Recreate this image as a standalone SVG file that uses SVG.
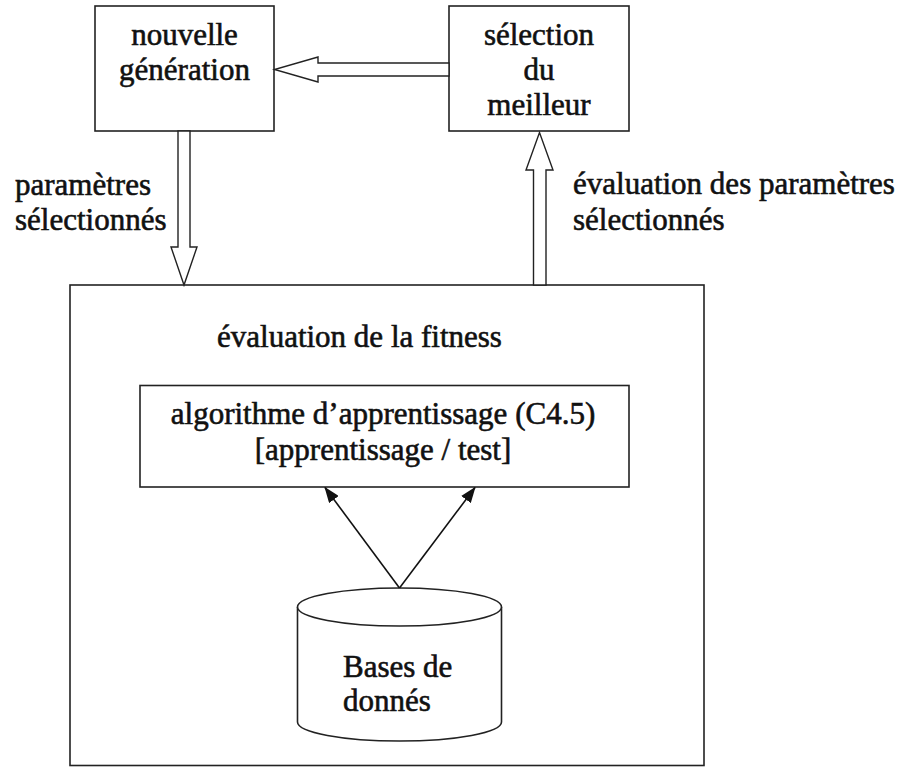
<svg xmlns="http://www.w3.org/2000/svg" width="900" height="767" viewBox="0 0 900 767">
<defs>
<style>
.box{fill:#fff;stroke:#222;stroke-width:1.6}
.hollow{fill:#fff;stroke:#222;stroke-width:1.4;stroke-linejoin:miter}
.line{fill:none;stroke:#111;stroke-width:1.6}
text{font-family:"Liberation Serif","Times New Roman",serif;font-size:31px;fill:#111;stroke:#111;stroke-width:0.6}
.c{text-anchor:middle}
</style>
<marker id="ah" viewBox="0 0 16 12" refX="15" refY="6" markerWidth="16" markerHeight="12" markerUnits="userSpaceOnUse" orient="auto">
<path d="M0,0 L16,6 L0,12 Z" fill="#111"/>
</marker>
</defs>
<rect width="900" height="767" fill="#fff"/>
<g id="fitness">
<rect class="box" x="70" y="285" width="634" height="480.5"/>
<text x="217" y="347">évaluation de la fitness</text>
</g>
<g id="nouvelle">
<rect class="box" x="95" y="6" width="179" height="125"/>
<text class="c" x="184.5" y="45">nouvelle</text>
<text class="c" x="184.5" y="80">génération</text>
</g>
<g id="selection">
<rect class="box" x="449" y="6" width="180" height="125"/>
<text class="c" x="539" y="45">sélection</text>
<text class="c" x="539" y="80">du</text>
<text class="c" x="539" y="115">meilleur</text>
</g>
<g id="algo">
<rect class="box" x="140" y="385.5" width="489" height="101.5"/>
<text class="c" x="383" y="424">algorithme d’apprentissage (C4.5)</text>
<text class="c" x="383" y="460">[apprentissage / test]</text>
</g>
<g id="bases">
<path class="box" d="M297.5,607 L297.5,722 A102,19 0 0 0 501.5,722 L501.5,607"/>
<ellipse class="box" cx="399.5" cy="607" rx="102" ry="19"/>
<text x="343" y="677">Bases de</text>
<text x="343" y="711">donnés</text>
</g>
<g id="connectors">
<polygon class="hollow" points="449,63 318,63 318,57 274.5,69.5 318,82 318,76 449,76"/>
<polygon class="hollow" points="178,131 178,247 171,247 184,285 197,247 190,247 190,131"/>
<polygon class="hollow" points="533.5,285 533.5,170 526,170 539.5,132.5 553,170 546,170 546,285"/>
<line class="line" x1="399.5" y1="588" x2="325" y2="487.5" marker-end="url(#ah)"/>
<line class="line" x1="399.5" y1="588" x2="475" y2="487.5" marker-end="url(#ah)"/>
</g>
<g id="labels">
<text x="15" y="195">paramètres</text>
<text x="15" y="230">sélectionnés</text>
<text x="573" y="194">évaluation des paramètres</text>
<text x="573" y="230">sélectionnés</text>
</g>
</svg>
